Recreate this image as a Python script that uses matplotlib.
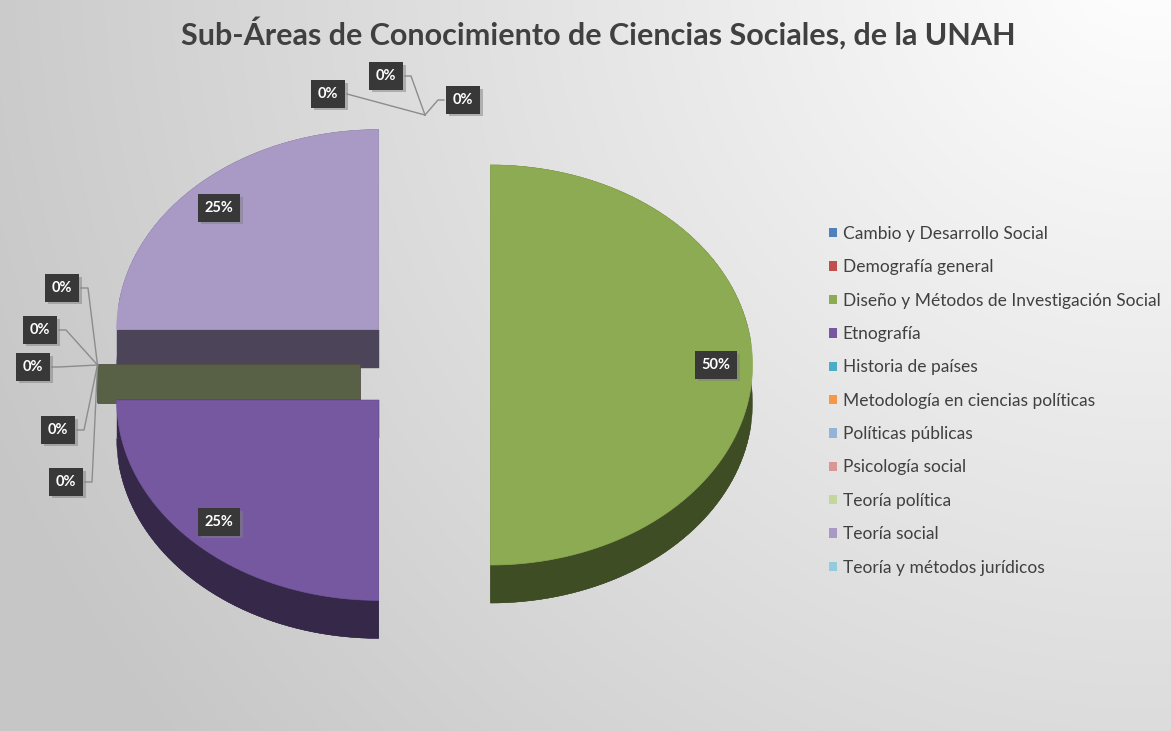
import numpy as np
import matplotlib.pyplot as plt
from matplotlib.patches import Polygon, Patch
from matplotlib.collections import PolyCollection
import matplotlib.colors as mcolors
import matplotlib.patheffects as pe

# data
categories = ['Cambio y Desarrollo Social', 'Demografía general',
              'Diseño y Métodos de Investigación Social', 'Etnografía',
              'Historia de países', 'Metodología en ciencias políticas',
              'Políticas públicas', 'Psicología social', 'Teoría política',
              'Teoría social', 'Teoría y métodos jurídicos']
values = [0, 0, 2, 1, 0, 0, 0, 0, 0, 1, 0]
colors = ['#4F81BD', '#C0504D', '#8DAB52', '#7558A0', '#4BACC6', '#F79646',
          '#95B3D7', '#D99694', '#C3D69B', '#A99AC5', '#93CDDD']
title = 'Sub-Áreas de Conocimiento de Ciencias Sociales, de la UNAH'

W, H = 1171, 731
fig = plt.figure(figsize=(W / 100, H / 100), dpi=100)
ax = fig.add_axes([0, 0, 1, 1])
ax.set_xlim(0, W)
ax.set_ylim(H, 0)
ax.axis('off')

# background gradient (light at top right, grey to the bottom left)
yy, xx = np.mgrid[0:H, 0:W]
d = np.hypot(xx - 1150, yy + 50) / 1250
shade = np.clip(1.0 - 0.22 * d, 0.78, 1.0)
bg = np.dstack([shade, shade, shade])
ax.imshow(bg, extent=[0, W, H, 0], zorder=0, aspect='auto')

ax.text(598, 33, title, ha='center', va='center', fontsize=22,
        fontweight='bold', color='#404040', family='Lato', zorder=10)

# pie geometry (pixels)
cx, cy = 425, 365
rx, ry = 262, 200
depth = 38
explode = 0.25
lab_r = 0.86

total = sum(values)
fracs = [v / total for v in values]
starts = np.cumsum([0] + fracs[:-1]) * 360


def pt(x0, y0, th, f=1.0):
    t = np.radians(th)
    return x0 + f * rx * np.sin(t), y0 - f * ry * np.cos(t)


def darker(c, k=0.45):
    r, g, b = mcolors.to_rgb(c)
    return (r * k, g * k, b * k)


slices = []
for i, (s, f) in enumerate(zip(starts, fracs)):
    e = s + f * 360
    mid = (s + e) / 2
    ox, oy = pt(cx, cy, mid, explode)
    n = max(2, int(f * 200))
    th = np.linspace(s, e, n)
    arc = [pt(ox, oy, t) for t in th]
    poly = np.array([(ox, oy)] + arc)
    slices.append((i, poly, (ox, oy), s, e, mid))

# draw order: back (top of screen) to front
order = sorted(slices, key=lambda sl: sl[1][:, 1].max())
for i, poly, c0, s, e, mid in order:
    closed = np.vstack([poly, poly[:1]])
    quads = []
    for p, q in zip(closed[:-1], closed[1:]):
        if abs(q[0] - p[0]) < 1:
            continue
        quads.append([p, q, q + [0, depth], p + [0, depth]])
    if not quads:
        continue
    if values[i] > 0:
        quads.append(poly + [0, depth])
    ax.add_collection(PolyCollection(quads, facecolors=darker(colors[i]),
                                     edgecolors=darker(colors[i]),
                                     linewidths=0.3, zorder=2))
    if values[i] > 0:
        ax.add_patch(Polygon(poly, closed=True, fc=colors[i],
                             ec=colors[i], lw=0.5, zorder=3))


def label(x, y, txt):
    t = ax.text(x, y, txt, ha='center', va='center', fontsize=10.5,
                fontweight='bold', color='white', family='Lato', zorder=6,
                bbox=dict(boxstyle='square,pad=0.45', fc='#383838', ec='none'))
    t.get_bbox_patch().set_path_effects(
        [pe.SimplePatchShadow(offset=(2, -2), shadow_rgbFace='#808080',
                              alpha=0.5), pe.Normal()])


# labels on the non-zero slices
for i, poly, c0, s, e, mid in slices:
    if values[i] > 0:
        x, y = pt(c0[0], c0[1], mid, lab_r)
        label(x, y, f'{round(fracs[i] * 100)}%')

# zero slices: labels pulled out with leader lines
zero_top = [i for i in range(len(values))
            if values[i] == 0 and (starts[i] < 1e-6 or starts[i] > 359)]
zero_left = [i for i in range(len(values))
             if values[i] == 0 and i not in zero_top]
zero_top = [zero_top[-1]] + zero_top[:-1]
top_pos = [(328, 94), (386, 76), (463, 100)]
left_pos = [(62, 288), (40, 330), (33, 367), (58, 430), (66, 482)]
lc = '#8c8c8c'

for k, (i, (lx, ly)) in enumerate(zip(zero_top, top_pos)):
    sl = slices[i]
    px, py = pt(sl[2][0], sl[2][1], sl[3])
    if k == 0:
        ax.plot([lx + 19, px], [ly, py], color=lc, lw=1, zorder=4)
    elif k == 1:
        ax.plot([lx + 19, lx + 25, px], [ly, ly, py], color=lc, lw=1, zorder=4)
    else:
        ax.plot([lx - 19, lx - 25, px], [ly, ly, py], color=lc, lw=1, zorder=4)
    label(lx, ly, f'{round(fracs[i] * 100)}%')

for i, (lx, ly) in zip(zero_left, left_pos):
    sl = slices[i]
    px, py = pt(sl[2][0], sl[2][1], sl[3])
    ax.plot([lx + 19, lx + 26, px], [ly, ly, py], color=lc, lw=1, zorder=4)
    label(lx, ly, f'{round(fracs[i] * 100)}%')

handles = [Patch(fc=c, ec='none') for c in colors]
leg = ax.legend(handles, categories, loc='upper left',
                bbox_to_anchor=(822 / W, 1 - 219 / H), frameon=False,
                prop={'family': 'Lato', 'size': 12.5}, handlelength=0.45,
                handleheight=0.45, handletextpad=0.35, labelspacing=1.0,
                borderaxespad=0)
for t in leg.get_texts():
    t.set_color('#404040')

fig.savefig('out.png', dpi=100)
